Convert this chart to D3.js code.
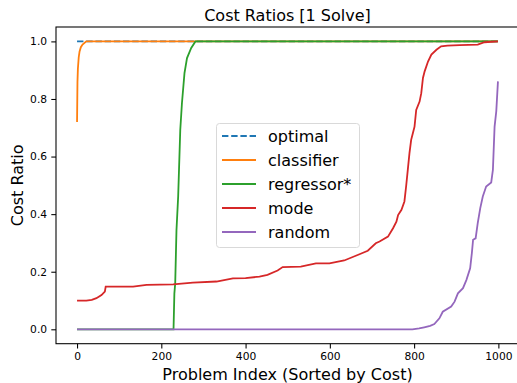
<!DOCTYPE html>
<html>
<head>
<meta charset="utf-8">
<script src="https://cdn.jsdelivr.net/npm/d3@7/dist/d3.min.js"></script>
<style>
  html, body { margin: 0; padding: 0; background: #fff; }
  svg { display: block; font-family: "DejaVu Sans", sans-serif; }
</style>
</head>
<body>
<div id="chart"></div>
<script>
// series as [problem index, cost ratio] pairs
const optimal = [[0, 1.0], [999, 1.0]];
const classifier = [[0, 0.72], [1, 0.86], [2, 0.905], [4, 0.945], [6, 0.965], [9, 0.98], [13, 0.989], [22, 1.0], [999, 1.0]];
const regressor = [[0, 0.0], [229, 0.0], [231, 0.125], [233, 0.16], [236, 0.345], [240, 0.461], [245, 0.693],
  [249, 0.786], [255, 0.89], [261, 0.942], [271, 0.977], [281, 1.0], [999, 1.0]];
const mode = [[0, 0.0995], [22, 0.0995], [35, 0.102], [46, 0.108], [58, 0.119], [66, 0.131], [68, 0.148],
  [133, 0.148], [165, 0.154], [228, 0.156], [275, 0.162], [331, 0.166], [370, 0.177], [400, 0.178], [433, 0.183],
  [452, 0.189], [476, 0.204], [488, 0.216], [531, 0.218], [567, 0.229], [599, 0.229], [634, 0.239],
  [666, 0.258], [690, 0.273], [709, 0.299], [718, 0.305], [738, 0.322], [750, 0.351], [758, 0.374],
  [762, 0.397], [770, 0.415], [777, 0.444], [781, 0.496], [785, 0.554], [789, 0.612], [793, 0.658],
  [797, 0.681], [801, 0.704], [805, 0.762], [813, 0.791], [817, 0.82], [821, 0.873], [825, 0.896],
  [833, 0.93], [841, 0.954], [853, 0.971], [864, 0.983], [879, 0.985], [908, 0.987], [951, 0.989],
  [967, 0.997], [999, 1.0]];
const random = [[0, 0.0], [796, 0.0], [812, 0.003], [824, 0.007], [838, 0.012], [848, 0.018], [860, 0.038],
  [868, 0.061], [888, 0.079], [896, 0.096], [904, 0.125], [916, 0.143], [924, 0.171], [933, 0.212],
  [937, 0.264], [940, 0.311], [946, 0.316], [951, 0.369], [957, 0.421], [963, 0.461], [971, 0.496],
  [983, 0.51], [987, 0.554], [991, 0.704], [995, 0.757], [999, 0.861]];

const seriesNames = ['optimal', 'classifier', 'regressor*', 'mode', 'random'];
const seriesData = [optimal, classifier, regressor, mode, random];
const seriesColors = ['#1f77b4', '#ff7f0e', '#2ca02c', '#d62728', '#9467bd'];
const xTicks = [0, 200, 400, 600, 800, 1000];
const yTicks = [0.0, 0.2, 0.4, 0.6, 0.8, 1.0];

const width = 517, height = 383;
const margin = { left: 56, right: 519, top: 27, bottom: 343.7 };

const svg = d3.select('#chart').append('svg')
  .attr('width', width)
  .attr('height', height);

const x = d3.scaleLinear().domain([-49.95, 1048.95]).range([margin.left, margin.right]);
const y = d3.scaleLinear().domain([-0.05, 1.05]).range([margin.bottom, margin.top]);

// lines
const line = d3.line().x(d => x(d[0])).y(d => y(d[1]));
const plot = svg.append('g');
seriesData.forEach((data, i) => {
  plot.append('path')
    .datum(data)
    .attr('fill', 'none')
    .attr('stroke', seriesColors[i])
    .attr('stroke-width', 1.8)
    .attr('stroke-dasharray', i === 0 ? '6.4,2.8' : null)
    .attr('d', line);
});

// axes
const xAxis = svg.append('g')
  .attr('transform', `translate(0,${margin.bottom})`)
  .call(d3.axisBottom(x).tickValues(xTicks).tickSize(4.7).tickPadding(4.2).tickFormat(d3.format('d')));
const yAxis = svg.append('g')
  .attr('transform', `translate(${margin.left},0)`)
  .call(d3.axisLeft(y).tickValues(yTicks).tickSize(4.7).tickPadding(4.2).tickFormat(d3.format('.1f')));
[xAxis, yAxis].forEach(a => {
  a.select('.domain').remove();
  a.selectAll('.tick line').attr('stroke', '#000').attr('stroke-width', 1.07);
  a.selectAll('.tick text').attr('fill', '#000').style('font-size', '10.7px').style('font-family', '"DejaVu Sans"');
});

// frame
svg.append('rect')
  .attr('x', margin.left)
  .attr('y', margin.top)
  .attr('width', margin.right - margin.left)
  .attr('height', margin.bottom - margin.top)
  .attr('fill', 'none')
  .attr('stroke', '#000')
  .attr('stroke-width', 1.07);

// title and labels
svg.append('text')
  .attr('x', (margin.left + margin.right) / 2)
  .attr('y', 20.5)
  .attr('text-anchor', 'middle')
  .style('font-size', '16px')
  .text('Cost Ratios [1 Solve]');

svg.append('text')
  .attr('x', (margin.left + margin.right) / 2)
  .attr('y', 380)
  .attr('text-anchor', 'middle')
  .style('font-size', '16px')
  .text('Problem Index (Sorted by Cost)');

svg.append('text')
  .attr('transform', `translate(22.5,${(margin.top + margin.bottom) / 2}) rotate(-90)`)
  .attr('text-anchor', 'middle')
  .style('font-size', '16px')
  .text('Cost Ratio');

// legend
const legend = svg.append('g').attr('transform', 'translate(216,123)');
legend.append('rect')
  .attr('x', 0.5).attr('y', 0.5)
  .attr('width', 143).attr('height', 124)
  .attr('rx', 3)
  .attr('fill', '#fff').attr('fill-opacity', 0.8)
  .attr('stroke', '#d9d9d9').attr('stroke-width', 1);
seriesNames.forEach((name, i) => {
  const g = legend.append('g').attr('transform', `translate(0,${13 + i * 24})`);
  g.append('line')
    .attr('x1', 6).attr('x2', 40)
    .attr('stroke', seriesColors[i])
    .attr('stroke-width', 1.8)
    .attr('stroke-dasharray', i === 0 ? '6.4,2.8' : null);
  g.append('text')
    .attr('x', 52).attr('y', 5.8)
    .style('font-size', '16px')
    .text(name);
});
</script>
</body>
</html>
